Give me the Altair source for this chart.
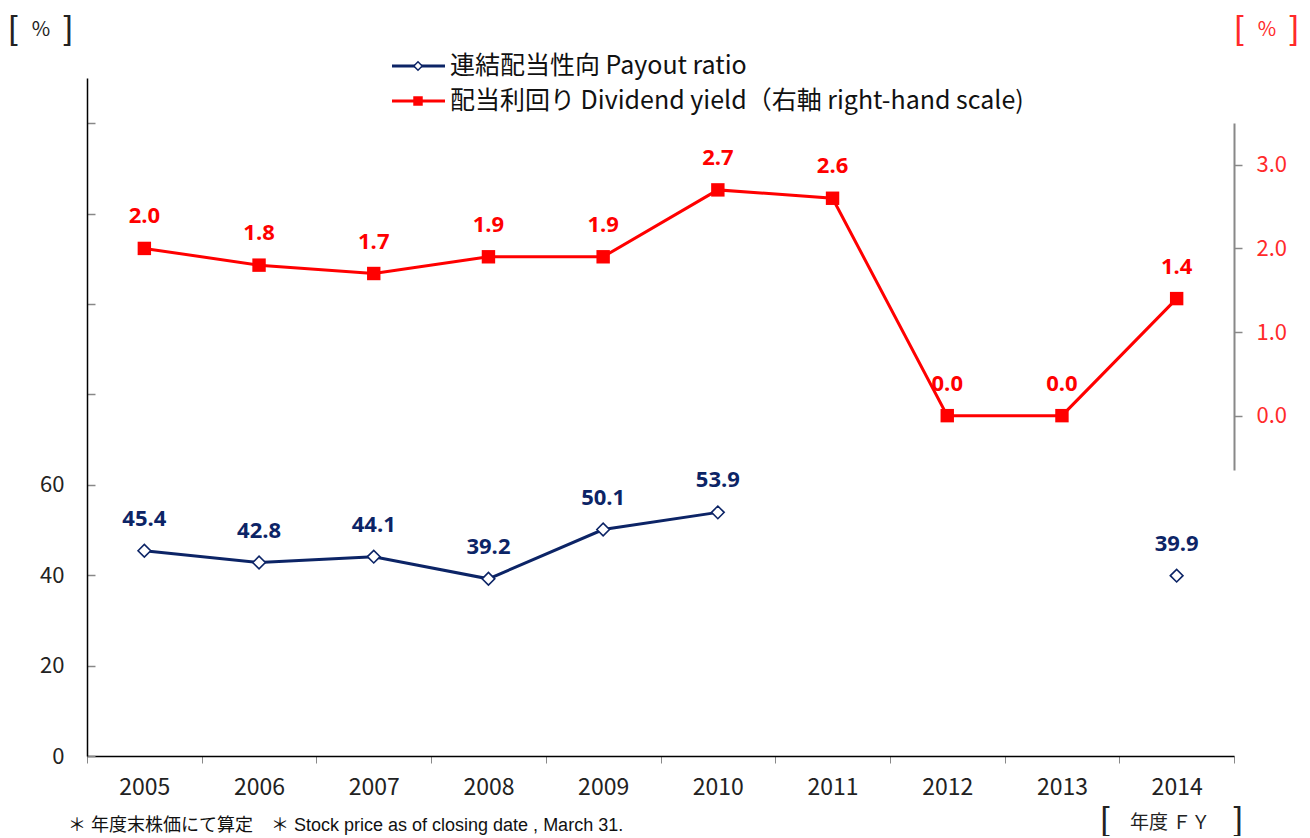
import altair as alt
import pandas as pd

# ---------------- data ----------------
years = ["2005", "2006", "2007", "2008", "2009", "2010", "2011", "2012", "2013", "2014"]
payout_ratio = [45.4, 42.8, 44.1, 39.2, 50.1, 53.9, None, None, None, 39.9]
payout_segment = ["a", "a", "a", "a", "a", "a", None, None, None, "b"]
dividend_yield = [2.0, 1.8, 1.7, 1.9, 1.9, 2.7, 2.6, 0.0, 0.0, 1.4]

left_tick_values = [0, 20, 40, 60, 80, 100, 120, 140]
right_tick_values = [0, 1, 2, 3]

legend_labels = ["連結配当性向 Payout ratio", "配当利回り Dividend yield（右軸 right-hand scale)"]
unit_label = "%"
x_unit_label = "年度 ＦＹ"
footnote = "＊ 年度末株価にて算定　＊ Stock price as of closing date , March 31."

# ---------------- style ----------------
NAVY = "#0c2466"
RED = "#ff0000"
RED_LABEL = "#ff2a2a"
FONT = "Noto Sans CJK JP"
NUMFONT = "Open Sans"
BRFONT = "Liberation Sans"
W, H = 1147, 678

df = pd.DataFrame({
    "year": years,
    "payout": payout_ratio,
    "seg": payout_segment,
    "dy": dividend_yield,
})
dummy = pd.DataFrame({"a": [0]})

xenc = alt.X(
    "year:O",
    scale=alt.Scale(type="band", paddingInner=0, paddingOuter=0),
    axis=alt.Axis(
        title=None, labelAngle=0, tickBand="extent", tickSize=7, tickColor="#888888",
        domainColor="#000000", domainWidth=1.5, labelFont=FONT, labelFontSize=23,
        labelColor="#222222", labelPadding=13, grid=False,
    ),
)

yleft = alt.Y(
    "payout:Q",
    scale=alt.Scale(domain=[0, 150], nice=False),
    axis=alt.Axis(
        title=None, values=left_tick_values,
        labelExpr="datum.value <= 60 ? datum.label : ''",
        tickSize={"expr": "-8"}, tickColor="#888888", tickWidth=1.5,
        domainColor="#000000", domainWidth=1.5, labelFont=FONT, labelFontSize=22,
        labelColor="#222222", labelPadding=31, grid=False,
    ),
)

yright = alt.Y(
    "dy:Q",
    scale=alt.Scale(domain=[-0.65, 3.5], range=[392, 45], nice=False, zero=False),
    axis=alt.Axis(
        title=None, orient="right", values=right_tick_values, format=".1f",
        tickSize=8, tickColor="#888888", tickWidth=1.5, domainColor="#888888",
        domainWidth=2, labelFont=FONT, labelFontSize=22, labelColor=RED_LABEL,
        labelPadding=14, grid=False,
    ),
)

base = alt.Chart(df)
pay = base.transform_filter("isValid(datum.payout)")

payout_line = pay.mark_line(color=NAVY, strokeWidth=3).encode(x=xenc, y=yleft, detail="seg:N")
payout_pts = pay.mark_point(shape="diamond", filled=True, fill="white", stroke=NAVY,
                            strokeWidth=1.6, size=160, opacity=1).encode(x=xenc, y=yleft)
payout_txt = pay.mark_text(dy=-32, font=NUMFONT, fontSize=22, fontWeight="bold",
                           color=NAVY).encode(x=xenc, y=yleft,
                                              text=alt.Text("payout:Q", format=".1f"))
left = alt.layer(payout_line, payout_pts, payout_txt)

yield_line = base.mark_line(color=RED, strokeWidth=3).encode(x=xenc, y=yright)
yield_pts = base.mark_point(shape="square", filled=True, color=RED, size=180,
                            opacity=1).encode(x=xenc, y=yright)
yield_txt = base.mark_text(dy=-32, font=NUMFONT, fontSize=22, fontWeight="bold",
                           color=RED).encode(x=xenc, y=yright,
                                             text=alt.Text("dy:Q", format=".1f"))
right = alt.layer(yield_line, yield_pts, yield_txt)

ann = alt.Chart(dummy)
annots = []


def txt(s, x, y, size, color="#222222", font=FONT, align="center", weight="normal"):
    return ann.mark_text(fontSize=size, font=font, color=color, align=align,
                         baseline="middle", fontWeight=weight).encode(
        x=alt.value(x), y=alt.value(y), text=alt.value(s))


# unit labels with brackets
for (cx, color) in [(-46, "#222222"), (1180, RED_LABEL)]:
    annots.append(txt("[", cx - 28, -49, 33, color=color, font=BRFONT))
    annots.append(txt(unit_label, cx, -48, 20, color=color))
    annots.append(txt("]", cx + 27, -49, 33, color=color, font=BRFONT))

annots.append(txt("[", 1018, 742, 33, font=BRFONT))
annots.append(txt(x_unit_label, 1083, 745, 19))
annots.append(txt("]", 1151, 742, 33, font=BRFONT))

annots.append(txt(footnote, -19, 748, 18, color="#111111",
                  font="Liberation Sans, Noto Sans CJK JP", align="left"))

# legend
leg_y = [-12, 23]
annots.append(ann.mark_rule(color=NAVY, strokeWidth=3).encode(
    x=alt.value(305), x2=alt.value(358), y=alt.value(leg_y[0])))
annots.append(ann.mark_point(shape="diamond", filled=True, fill="white", stroke=NAVY,
                             strokeWidth=1.5, size=70, opacity=1).encode(
    x=alt.value(331), y=alt.value(leg_y[0])))
annots.append(ann.mark_rule(color=RED, strokeWidth=3).encode(
    x=alt.value(305), x2=alt.value(358), y=alt.value(leg_y[1])))
annots.append(ann.mark_point(shape="square", filled=True, color=RED, size=90,
                             opacity=1).encode(x=alt.value(331), y=alt.value(leg_y[1])))
for lab, yy in zip(legend_labels, leg_y):
    annots.append(txt(lab, 363, yy, 25, color="#111111", align="left"))

chart = alt.layer(left, right, *annots).resolve_scale(y="independent").properties(
    width=W, height=H,
    padding={"left": 79, "top": 70, "right": 66, "bottom": 80},
    autosize=alt.AutoSizeParams(type="none"),
).configure_view(stroke=None)

chart.save("out.html", embed_options={"renderer": "svg", "actions": False})
